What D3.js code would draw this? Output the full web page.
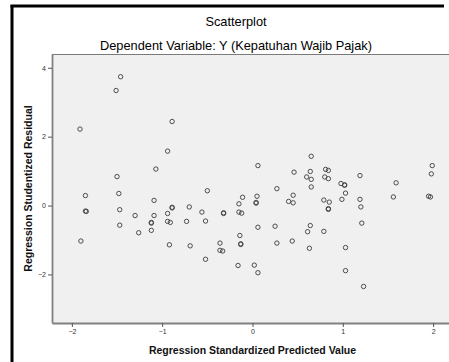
<!DOCTYPE html>
<html><head><meta charset="utf-8">
<script src="https://cdn.jsdelivr.net/npm/d3@7/dist/d3.min.js"></script>
<style>body{margin:0;background:#fff}svg{display:block}</style>
</head><body>
<script>
const chartTitle = "Scatterplot";
const chartSubtitle = "Dependent Variable: Y (Kepatuhan Wajib Pajak)";
const xLabel = "Regression Standardized Predicted Value";
const yLabel = "Regression Studentized Residual";
const xTicks = [-2, -1, 0, 1, 2];
const yTicks = [4, 2, 0, -2];
// predicted (x) and residual (y) values
const predicted = [-1.91,-1.46,-1.51,-1.50,-1.85,-1.48,-1.85,-1.84,-1.47,-1.30,-1.47,-1.26,-1.90,
 -1.07,-1.09,-0.89,-0.89,-0.70,-1.09,-0.94,-1.12,-1.12,-0.94,-0.91,-0.73,-1.12,-0.92,-0.69,
 -0.89,-0.94,0.06,0.46,-0.50,-0.11,0.27,0.05,-0.15,0.04,0.04,0.45,0.40,0.45,
 -0.56,-0.32,-0.32,-0.15,-0.12,-0.52,0.06,0.25,-0.14,-0.36,-0.13,-0.13,0.27,0.44,-0.36,-0.33,
 -0.52,-0.16,0.02,0.06,
 0.65,0.64,0.60,0.65,0.81,0.84,0.80,0.84,0.65,0.79,0.85,0.64,0.61,0.79,0.63,
 1.99,1.98,1.19,0.98,1.02,1.02,1.03,1.59,0.99,1.19,1.56,1.95,1.97,0.84,0.84,1.20,1.21,1.03,1.03,1.23];
const residual = [2.22,3.74,3.34,0.84,0.29,0.35,-0.16,-0.17,-0.12,-0.29,-0.57,-0.79,-1.03,
 1.06,0.15,-0.05,-0.07,-0.04,-0.29,-0.23,-0.49,-0.51,-0.46,-0.49,-0.46,-0.72,-1.14,-1.17,
 2.44,1.58,1.16,0.97,0.43,0.24,0.49,0.27,0.05,0.07,0.09,0.30,0.12,0.08,
 -0.19,-0.21,-0.23,-0.19,-0.22,-0.45,-0.63,-0.60,-0.87,-1.09,-1.11,-1.13,-1.09,-1.03,-1.30,-1.32,
 -1.56,-1.74,-1.73,-1.95,
 1.43,0.99,0.83,0.76,1.05,1.02,0.83,0.78,0.54,0.16,0.10,-0.58,-0.76,-0.75,-1.24,
 1.16,0.92,0.87,0.64,0.59,0.60,0.36,0.66,0.18,0.18,0.25,0.27,0.25,-0.09,-0.11,-0.04,-0.51,-1.22,-1.89,-2.35];

const W = 449, H = 362;
const svg = d3.select("body").append("svg").attr("width", W).attr("height", H);
const font = "Arial, 'Liberation Sans', sans-serif";

// outer frame
svg.append("line").attr("x1", 12).attr("x2", 12).attr("y1", 5).attr("y2", H)
  .attr("stroke", "#000").attr("stroke-width", 3);
svg.append("line").attr("x1", 10.5).attr("x2", 444).attr("y1", 6).attr("y2", 6)
  .attr("stroke", "#000").attr("stroke-width", 3);

const pl = 52, pr = 453, pt = 54, pb = 323;
const x = d3.scaleLinear().domain([-2.22, 2.22]).range([pl, pr]);
const y = d3.scaleLinear().domain([4.40, -3.41]).range([pt, pb]);

svg.append("rect").attr("x", pl).attr("y", pt).attr("width", pr - pl).attr("height", pb - pt)
  .attr("fill", "#f0f0f0");
svg.append("line").attr("x1", pl).attr("x2", pr).attr("y1", pt + 0.5).attr("y2", pt + 0.5)
  .attr("stroke", "#7a7a7a").attr("stroke-width", 1);

// axes
const fmt = d3.format("d");
const xAxis = svg.append("g").attr("transform", `translate(0,${pb})`)
  .call(d3.axisBottom(x).tickValues(xTicks).tickFormat(fmt).tickSize(4).tickSizeOuter(0).tickPadding(2));
const yAxis = svg.append("g").attr("transform", `translate(${pl},0)`)
  .call(d3.axisLeft(y).tickValues(yTicks).tickFormat(fmt).tickSize(4).tickSizeOuter(0).tickPadding(2));
[xAxis, yAxis].forEach(g => {
  g.select(".domain").attr("stroke", "#808080").attr("stroke-width", 1.8);
  g.selectAll(".tick line").attr("stroke", "#555").attr("stroke-width", 1);
  g.selectAll(".tick text").attr("fill", "#333").style("font-family", font).style("font-size", "7px");
});

// points
svg.append("g").selectAll("circle").data(predicted.map((p, i) => [p, residual[i]]))
  .join("circle")
  .attr("cx", d => x(d[0])).attr("cy", d => y(d[1])).attr("r", 2.2)
  .attr("fill", "none").attr("stroke", "#3c3c3c").attr("stroke-width", 0.9);

// titles
svg.append("text").attr("x", 236).attr("y", 26).attr("text-anchor", "middle")
  .style("font-family", font).style("font-size", "12.8px").attr("fill", "#000").text(chartTitle);
svg.append("text").attr("x", 236).attr("y", 49.5).attr("text-anchor", "middle")
  .style("font-family", font).style("font-size", "12.8px").attr("fill", "#000").text(chartSubtitle);
svg.append("text").attr("x", (pl + pr) / 2).attr("y", 354).attr("text-anchor", "middle")
  .style("font-family", font).style("font-size", "10.5px").style("font-weight", "bold")
  .attr("fill", "#111").text(xLabel);
svg.append("text").attr("transform", `translate(32,${(pt + pb) / 2}) rotate(-90)`)
  .attr("text-anchor", "middle")
  .style("font-family", font).style("font-size", "10.5px").style("font-weight", "bold")
  .attr("fill", "#111").text(yLabel);
</script>
</body></html>
